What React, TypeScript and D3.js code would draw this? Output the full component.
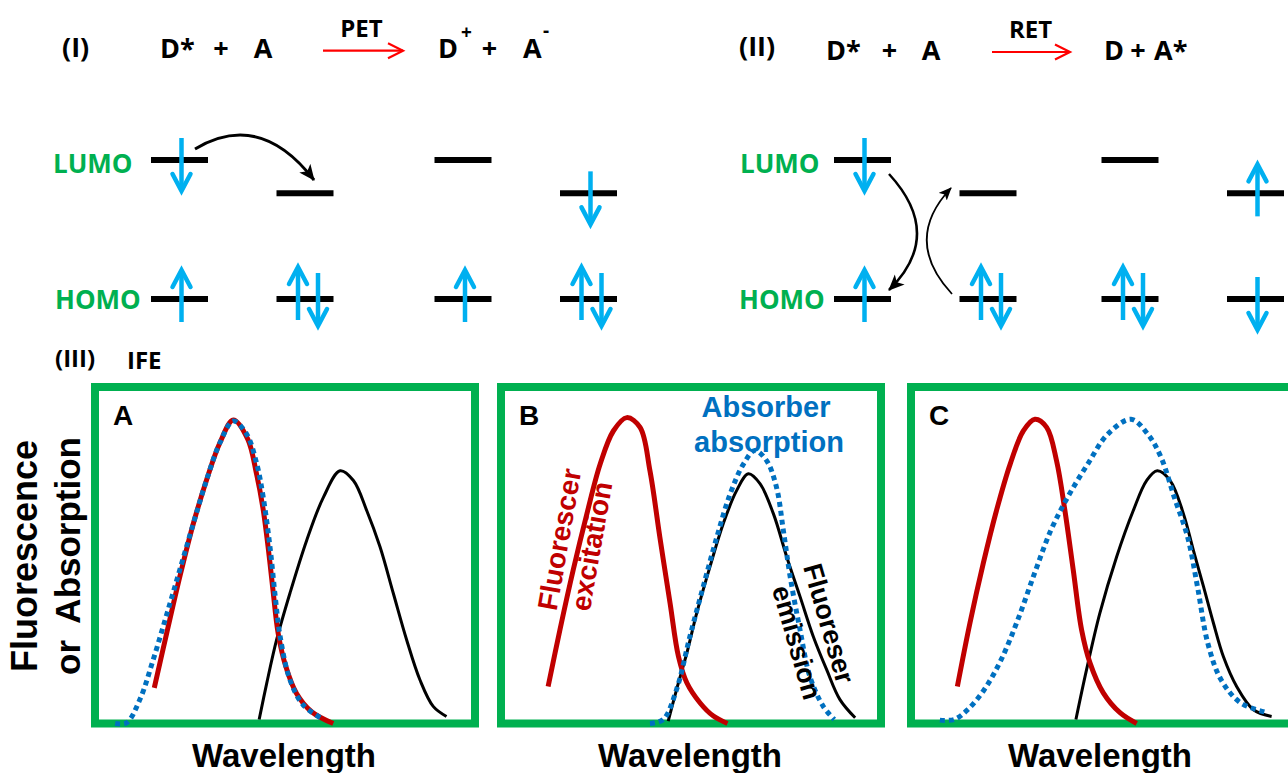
import React from "react";
import * as d3 from "d3";

// spectra: [wavelength (0-100), intensity (0-1)]
const excitationA = [[15.6,0.106],[18.9,0.27],[22.4,0.44],[25.9,0.595],[29.4,0.725],[32.9,0.835],[36.4,0.902],[40.2,0.845],[42.5,0.742],[44.2,0.64],[45.6,0.52],[46.8,0.4],[48.2,0.268],[50.2,0.17],[53.0,0.09],[57.0,0.035],[62.7,0]];
const absorberA = [[5.3,0],[8.3,0.002],[11.8,0.071],[15.3,0.189],[18.9,0.325],[22.4,0.46],[25.9,0.595],[29.4,0.725],[32.9,0.835],[36.4,0.899],[39.9,0.86],[42.6,0.77],[44.3,0.67],[46.1,0.52],[47.4,0.38],[48.7,0.26],[51.3,0.13],[54.8,0.055],[60.1,0.012]];
const emissionA = [[43.2,0.012],[45.2,0.12],[47.8,0.249],[51.3,0.387],[55.7,0.544],[60.1,0.672],[64.5,0.751],[68.0,0.722],[71.5,0.633],[75.0,0.525],[78.5,0.387],[82.0,0.249],[85.5,0.13],[89.0,0.051],[92.5,0.021]];

const excitationB = [[12.4,0.11],[15.5,0.278],[19.0,0.456],[22.6,0.623],[26.1,0.771],[29.6,0.87],[33.1,0.909],[36.6,0.88],[39.2,0.751],[41.8,0.554],[44.5,0.357],[46.7,0.199],[48.9,0.121],[52.4,0.061],[55.9,0.022],[59.6,0]];
const absorberB = [[39.2,0],[42.7,0.012],[46.2,0.101],[49.7,0.258],[53.2,0.406],[56.8,0.554],[60.3,0.682],[63.8,0.771],[66.8,0.811],[69.9,0.781],[72.5,0.702],[74.3,0.574],[76.1,0.436],[78.7,0.278],[81.3,0.139],[84.8,0.051],[87.7,0.012]];
const emissionB = [[44.0,0.007],[46.2,0.101],[48.9,0.209],[51.5,0.328],[55.0,0.466],[58.5,0.594],[62.0,0.692],[65.1,0.742],[68.2,0.712],[71.7,0.623],[75.2,0.495],[78.7,0.377],[82.2,0.258],[85.7,0.16],[89.2,0.071],[93.2,0.017]];

const excitationC = [[12.2,0.11],[15.5,0.298],[19.0,0.475],[22.5,0.633],[26.1,0.771],[29.6,0.87],[32.6,0.904],[35.7,0.88],[38.3,0.781],[40.5,0.633],[42.7,0.456],[44.9,0.278],[47.1,0.18],[50.6,0.091],[55.0,0.032],[59.4,0]];
const absorberC = [[7.6,0.01],[11.4,0.012],[14.9,0.041],[19.3,0.101],[23.7,0.189],[28.1,0.308],[32.5,0.446],[36.8,0.574],[41.2,0.672],[46.5,0.771],[51.8,0.86],[57.9,0.904],[62.3,0.86],[65.8,0.791],[69.3,0.672],[72.8,0.554],[75.4,0.406],[78.1,0.239],[81.6,0.13],[86.8,0.061],[93.9,0.032]];
const emissionC = [[43.4,0.012],[46.2,0.16],[49.7,0.328],[54.1,0.495],[58.5,0.633],[62.0,0.722],[64.8,0.751],[68.2,0.722],[71.7,0.623],[74.3,0.515],[77.0,0.406],[79.6,0.298],[82.2,0.199],[85.7,0.11],[90.1,0.041],[94.9,0.021]];

const panelNames = ["A", "B", "C"];
const excitation = [excitationA, excitationB, excitationC];
const absorber = [absorberA, absorberB, absorberC];
const emission = [emissionA, emissionB, emissionC];

// orbital energies (relative): donor LUMO, acceptor LUMO, HOMO
const lumoDonor = 1;
const lumoAcceptor = 0.76;
const homo = 0;
// spins per column, [LUMO, HOMO]
const spinsI = [[["down"], ["up"]], [[], ["up", "down"]], [[], ["up"]], [["down"], ["up", "down"]]];
const spinsII = [[["down"], ["up"]], [[], ["up", "down"]], [[], ["up", "down"]], [["up"], ["down"]]];

const CAL = "'Open Sans', Lato, sans-serif";
const ARIAL = "'Liberation Sans', Arial, sans-serif";
const GREEN = "#00B050";
const RED = "#C00000";
const BLUE = "#0070C0";
const SPIN = "#00B0F0";

const colX_I = [179.5, 305, 463, 588.5];
const colX_II = [862.5, 988, 1130, 1255.5];
const panelLeft = [95, 501, 911];
const panelTop = 387;
const panelBottom = 723.5;

const energy = d3.scaleLinear().domain([homo, lumoDonor]).range([299, 160]);

function Spin({ x, level, dir, pair }: any) {
  let y0, tip;
  if (dir === "up") {
    y0 = level + (pair ? 21 : 23);
    tip = level - (pair ? 32 : 29);
  } else {
    y0 = level - (pair ? 26 : 22);
    tip = level + (pair ? 27 : 31);
  }
  const s = dir === "up" ? 1 : -1;
  return (
    <g stroke={SPIN} strokeWidth={4.5} fill="none">
      <line x1={x} x2={x} y1={y0} y2={tip + s * 2} />
      <path d={`M${x - 9},${tip + s * 17}L${x},${tip}L${x + 9},${tip + s * 17}`} strokeLinejoin="miter" strokeLinecap="round" />
    </g>
  );
}

function Orbitals({ cols, spins }: any) {
  const out: any[] = [];
  cols.forEach((cx: number, i: number) => {
    const lumo = energy(i % 2 === 0 ? lumoDonor : lumoAcceptor);
    const h = energy(homo);
    [lumo, h].forEach((lv, k) => {
      out.push(<line key={`b${i}${k}`} x1={cx - 28.5} x2={cx + 28.5} y1={lv} y2={lv} stroke="#000" strokeWidth={6} />);
      const sp = spins[i][k];
      sp.forEach((d: string, j: number) => {
        const off = sp.length === 2 ? (d === "up" ? -7 : 13) : 2;
        out.push(<Spin key={`s${i}${k}${j}`} x={cx + off} level={lv} dir={d} pair={sp.length === 2} />);
      });
    });
  });
  return <g>{out}</g>;
}

function RedArrow({ x1, x2, y }: any) {
  return (
    <g stroke="#FF0000" strokeWidth={2.2} fill="none">
      <line x1={x1} x2={x2} y1={y} y2={y} />
      <path d={`M${x2 - 15},${y - 7.5}L${x2},${y}L${x2 - 15},${y + 7.5}`} />
    </g>
  );
}

export default function App() {
  const y = d3.scaleLinear().domain([0, 1]).range([panelBottom, panelTop]);
  return (
    <svg width={1288} height={773} style={{ position: "absolute", left: 0, top: 0, background: "#fff" }}>
      <defs>
        <marker id="headBig" markerUnits="userSpaceOnUse" markerWidth={20} markerHeight={16} refX={15} refY={7} orient="auto">
          <path d="M0,0L16,7L0,14L4,7z" fill="#000" />
        </marker>
        <marker id="headSmall" markerUnits="userSpaceOnUse" markerWidth={16} markerHeight={14} refX={12} refY={5.5} orient="auto">
          <path d="M0,0L13,5.5L0,11L3,5.5z" fill="#000" />
        </marker>
      </defs>

      {/* reactions */}
      <g fontFamily={CAL} fontWeight={700} fill="#000" fontSize={27}>
        <text x={62} y={57}>(I)</text>
        <text x={160} y={58}>D*</text>
        <text x={221} y={58} textAnchor="middle">+</text>
        <text x={263} y={58} textAnchor="middle">A</text>
        <text x={361.5} y={37} textAnchor="middle" fontSize={24}>PET</text>
        <text x={438} y={58}>D</text>
        <text x={461} y={39} fontSize={19}>+</text>
        <text x={489.5} y={58} textAnchor="middle">+</text>
        <text x={523} y={58}>A</text>
        <text x={543} y={37} fontSize={19}>-</text>

        <text x={739} y={56}>(II)</text>
        <text x={826} y={60}>D*</text>
        <text x={889.5} y={60} textAnchor="middle">+</text>
        <text x={931} y={60} textAnchor="middle">A</text>
        <text x={1030.5} y={38} textAnchor="middle" fontSize={24}>RET</text>
        <text x={1104} y={60}>D</text>
        <text x={1138} y={60} textAnchor="middle">+</text>
        <text x={1154} y={60}>A*</text>

        <text x={55} y={367} fontSize={24}>(III)</text>
        <text x={127} y={369} fontSize={24}>IFE</text>
      </g>
      <RedArrow x1={323} x2={403} y={50.7} />
      <RedArrow x1={992} x2={1070} y={52} />

      {/* orbital diagrams */}
      <g fontFamily={CAL} fontWeight={700} fill={GREEN} fontSize={26}>
        <text x={53} y={173}>LUMO</text>
        <text x={55} y={309}>HOMO</text>
        <text x={740} y={173}>LUMO</text>
        <text x={739} y={309}>HOMO</text>
      </g>
      <Orbitals cols={colX_I} spins={spinsI} />
      <Orbitals cols={colX_II} spins={spinsII} />
      <path d="M195,149Q260,110 314,180" fill="none" stroke="#000" strokeWidth={3} markerEnd="url(#headBig)" />
      <path d="M889,174Q945,235 889,290" fill="none" stroke="#000" strokeWidth={2.5} markerEnd="url(#headBig)" />
      <path d="M952,294Q902,240 951,188" fill="none" stroke="#000" strokeWidth={1.8} markerEnd="url(#headSmall)" />

      {/* IFE panels */}
      {panelNames.map((name, i) => {
        const x = d3.scaleLinear().domain([0, 100]).range([panelLeft[i], panelLeft[i] + 380]);
        const line = d3.line<number[]>().x((d) => x(d[0])).y((d) => y(d[1])).curve(d3.curveCatmullRom.alpha(0.5));
        const boxW = i === 2 ? 400 : 380;
        return (
          <g key={name}>
            <rect x={panelLeft[i]} y={panelTop} width={boxW} height={panelBottom - panelTop} fill="none" stroke={GREEN} strokeWidth={8} />
            <text x={panelLeft[i] + 18} y={425} fontFamily={ARIAL} fontWeight="bold" fontSize={28}>{name}</text>
            <path d={line(emission[i] as any) || ""} fill="none" stroke="#000" strokeWidth={3} />
            <path d={line(excitation[i] as any) || ""} fill="none" stroke={RED} strokeWidth={5} />
            <path d={line(absorber[i] as any) || ""} fill="none" stroke={BLUE} strokeWidth={5} strokeDasharray="5 4" />
            <text x={panelLeft[i] + 189} y={767} textAnchor="middle" fontFamily={ARIAL} fontWeight="bold" fontSize={33}>Wavelength</text>
          </g>
        );
      })}

      {/* panel B annotations */}
      <g fontFamily={ARIAL} fontWeight="bold" fontSize={29} fill={BLUE} textAnchor="middle">
        <text x={766} y={417}>Absorber</text>
        <text x={769} y={452}>absorption</text>
      </g>
      <g fontFamily={ARIAL} fontWeight="bold" fontSize={28} fill={RED} textAnchor="middle">
        <text transform="translate(569,541) rotate(-80)">Fluorescer</text>
        <text transform="translate(601,548) rotate(-80)">excitation</text>
      </g>
      <g fontFamily={ARIAL} fontWeight="bold" fontSize={27} fill="#000" textAnchor="middle">
        <text transform="translate(820,626) rotate(74)">Fluoreser</text>
        <text transform="translate(788,645) rotate(74)">emission</text>
      </g>

      {/* y axis title */}
      <g fontFamily={ARIAL} fontWeight="bold" fontSize={36} fill="#000">
        <text transform="translate(37,556) rotate(-90)" textAnchor="middle">Fluorescence</text>
        <text transform="translate(80,675) rotate(-90)" fontSize={35}>or</text>
        <text transform="translate(80,437) rotate(-90)" textAnchor="end" fontSize={35}>Absorption</text>
      </g>
    </svg>
  );
}
